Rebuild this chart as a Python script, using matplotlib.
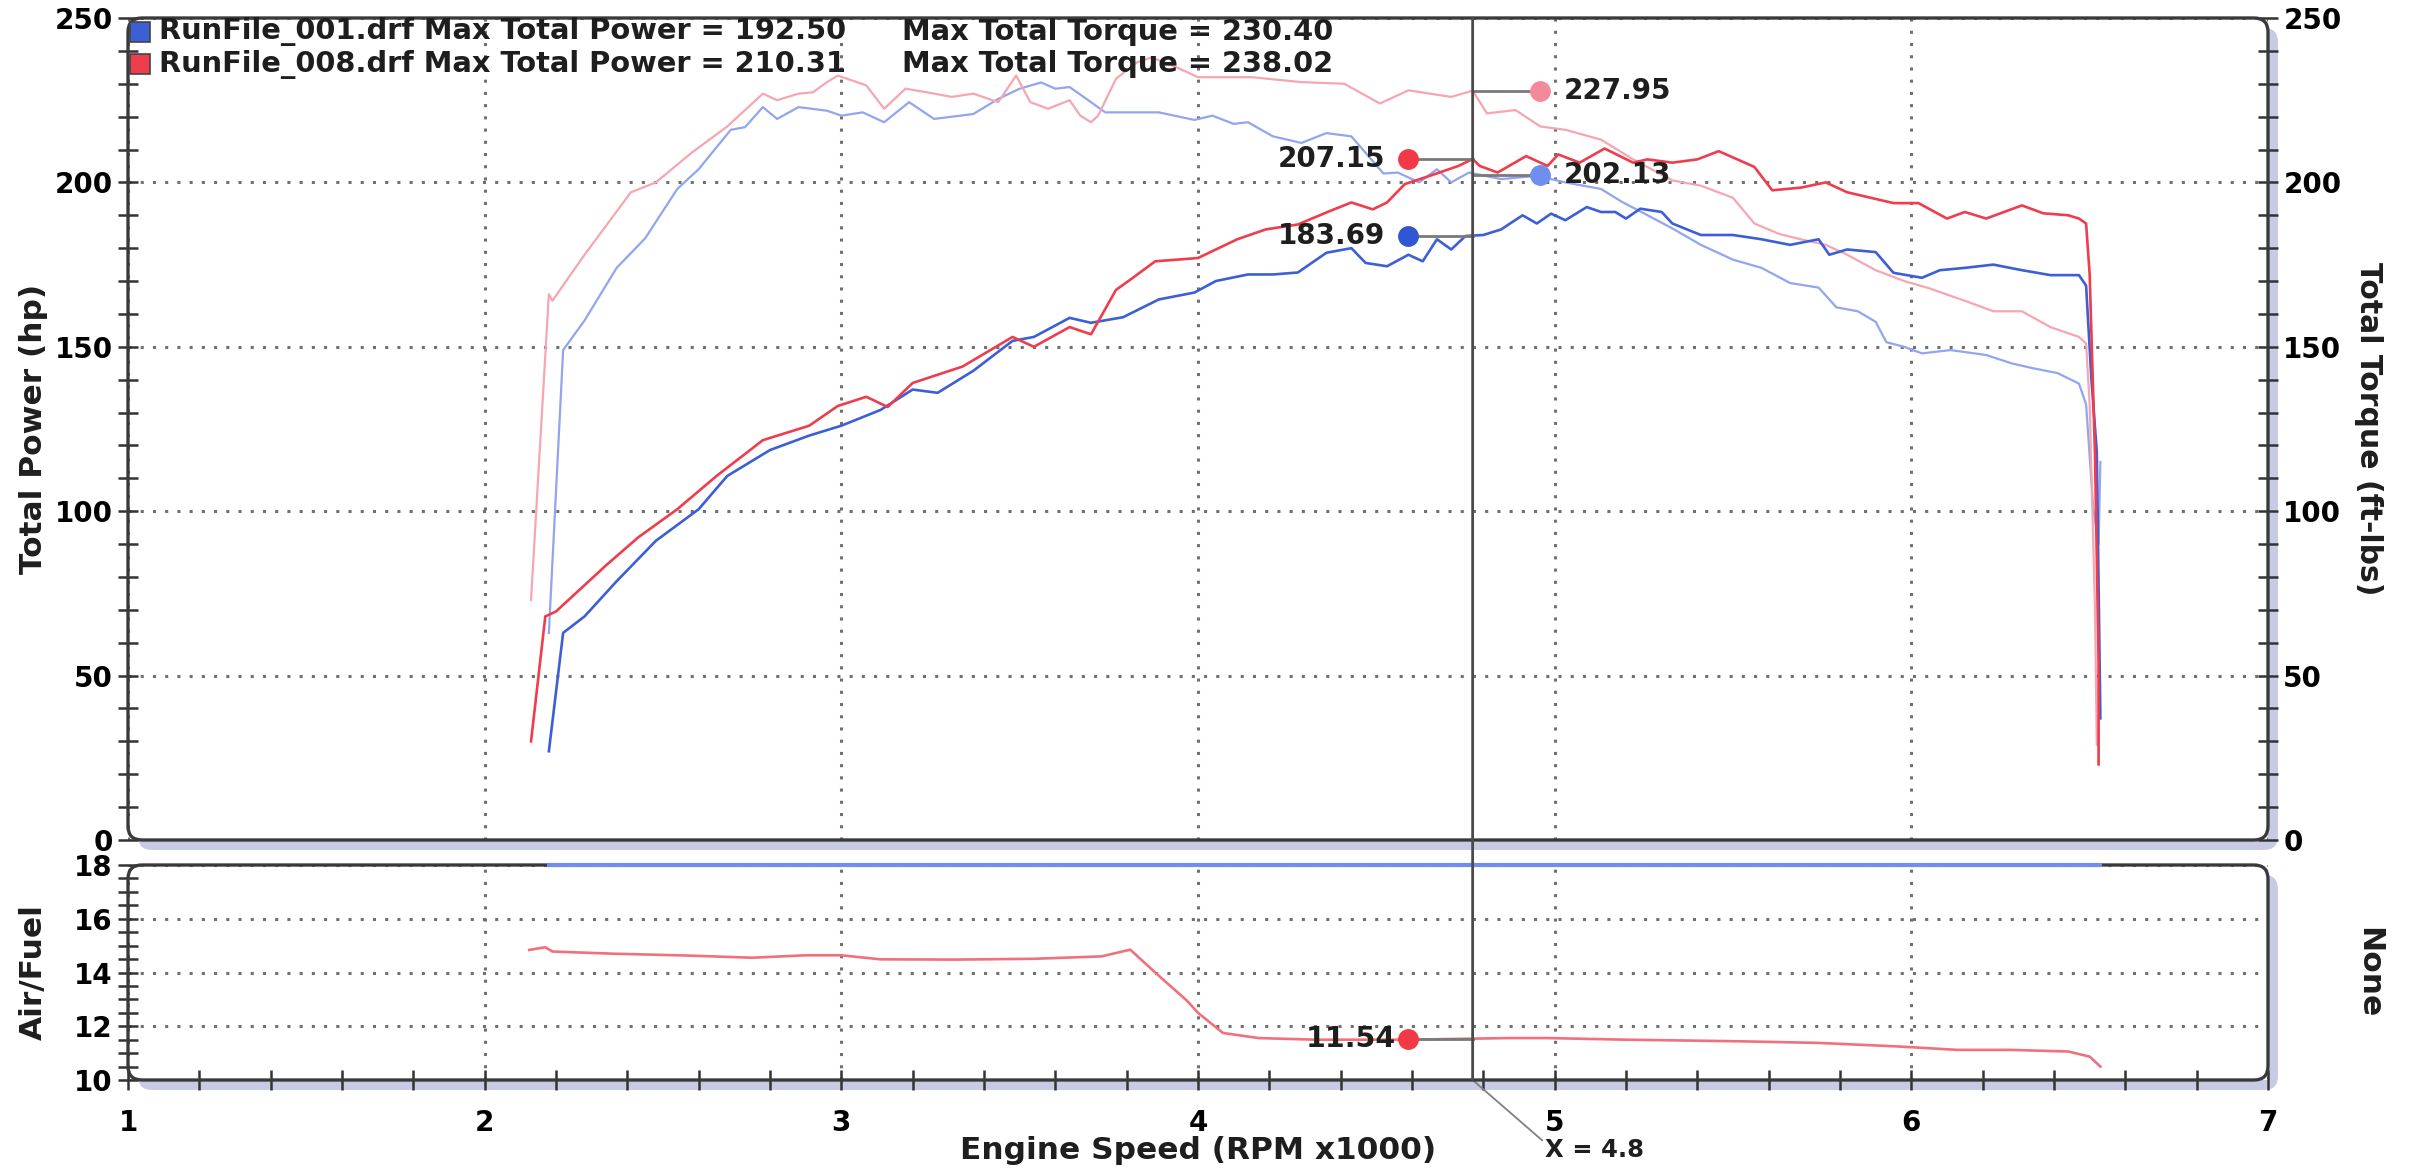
import numpy as np
import matplotlib.pyplot as plt
from matplotlib import transforms
from matplotlib.patches import FancyBboxPatch, ConnectionPatch
from matplotlib.ticker import MultipleLocator

# ---- values (RPM x1000) ----
rpm_hp001 = [2.18, 2.22, 2.28, 2.37, 2.48, 2.60, 2.68, 2.80, 2.91, 3.00, 3.11, 3.20, 3.27, 3.37,
             3.48, 3.54, 3.64, 3.70, 3.79, 3.89, 3.99, 4.05, 4.14, 4.21, 4.28, 4.36, 4.43, 4.47,
             4.53, 4.59, 4.63, 4.67, 4.71, 4.75, 4.80, 4.85, 4.91, 4.95, 4.99, 5.03, 5.09, 5.13,
             5.17, 5.20, 5.24, 5.30, 5.33, 5.41, 5.50, 5.58, 5.66, 5.74, 5.77, 5.82, 5.90, 5.95,
             6.03, 6.08, 6.15, 6.23, 6.31, 6.39, 6.47, 6.49, 6.505, 6.52, 6.53]
hp_001 = [27, 63, 68, 78.7, 91, 100.6, 110.7, 118.6, 123, 126, 130.8, 137, 136, 142.7,
          151.8, 153, 158.8, 157.3, 159, 164.4, 166.5, 170, 172, 172, 172.6, 178.6, 180, 175.5,
          174.5, 178, 176, 182.7, 179.6, 183.7, 184, 185.7, 190, 187.5, 190.5, 188.5, 192.5, 191,
          191, 189, 192, 191, 187.5, 184, 184, 182.7, 181, 182.7, 178, 179.6, 178.8, 172.5,
          171, 173.3, 174, 175, 173.3, 171.8, 171.8, 168.6, 140, 118, 37]

rpm_tq001 = [2.18, 2.22, 2.28, 2.37, 2.45, 2.54, 2.60, 2.69, 2.73, 2.78, 2.82, 2.88, 2.96, 3.00,
             3.06, 3.12, 3.19, 3.26, 3.37, 3.44, 3.50, 3.56, 3.60, 3.64, 3.70, 3.74, 3.89, 3.99,
             4.04, 4.10, 4.14, 4.21, 4.29, 4.36, 4.43, 4.52, 4.56, 4.62, 4.67, 4.71, 4.76, 4.85,
             4.95, 5.03, 5.13, 5.19, 5.25, 5.33, 5.41, 5.50, 5.58, 5.66, 5.74, 5.79, 5.85, 5.90,
             5.93, 5.98, 6.03, 6.11, 6.21, 6.28, 6.34, 6.41, 6.47, 6.49, 6.51, 6.525, 6.53]
tq_001 = [63, 149, 158, 174, 183, 198, 204, 216, 216.8, 222.9, 219.3, 222.9, 221.8, 220.3,
          221.3, 218.3, 224.4, 219.3, 220.8, 225.4, 228.5, 230.4, 228.5, 229, 224.4, 221.3, 221.3, 219,
          220.3, 217.8, 218.3, 214, 212, 215, 214, 202.7, 203, 200, 204, 200, 203, 201,
          202, 200, 198, 194, 190.6, 186, 181, 176.5, 174, 169.4, 168, 162, 160.8, 157.6,
          151.4, 150, 148, 149, 147.5, 145, 143.5, 142, 138.8, 132.5, 101, 90, 115]

rpm_hp008 = [2.13, 2.17, 2.20, 2.34, 2.43, 2.54, 2.65, 2.78, 2.91, 2.99, 3.07, 3.13, 3.20, 3.34,
             3.48, 3.54, 3.64, 3.70, 3.77, 3.81, 3.88, 4.00, 4.11, 4.19, 4.28, 4.37, 4.43, 4.49,
             4.53, 4.58, 4.65, 4.73, 4.77, 4.79, 4.84, 4.92, 4.98, 5.01, 5.07, 5.14, 5.22, 5.26,
             5.33, 5.40, 5.46, 5.56, 5.61, 5.69, 5.76, 5.82, 5.95, 6.02, 6.10, 6.15, 6.21, 6.31,
             6.37, 6.44, 6.47, 6.49, 6.50, 6.515, 6.525, 6.525]
hp_008 = [30, 68, 69.5, 83.5, 92, 100.6, 110.7, 121.6, 126, 132, 134.8, 131.7, 139, 144,
          153, 150, 156, 153.8, 167.3, 170.4, 176, 177, 182.7, 185.7, 187.2, 191.3, 193.9, 191.8,
          193.9, 199.5, 202, 205, 207.1, 205, 203, 208, 205, 208.5, 206, 210.3, 206, 207,
          206, 207, 209.5, 204.7, 197.6, 198.4, 200, 197, 193.7, 193.7, 189, 191, 189, 193,
          190.6, 190, 189, 187.5, 172, 117, 54, 23]

rpm_tq008 = [2.13, 2.18, 2.19, 2.28, 2.41, 2.48, 2.58, 2.68, 2.78, 2.82, 2.88, 2.92, 2.96, 2.99,
             3.07, 3.12, 3.18, 3.24, 3.31, 3.37, 3.44, 3.49, 3.53, 3.58, 3.64, 3.67, 3.70, 3.72,
             3.77, 3.83, 3.87, 3.94, 4.00, 4.15, 4.29, 4.41, 4.51, 4.59, 4.71, 4.77, 4.81, 4.89,
             4.96, 5.03, 5.13, 5.22, 5.33, 5.41, 5.50, 5.56, 5.63, 5.69, 5.76, 5.82, 5.90, 5.98,
             6.05, 6.11, 6.15, 6.23, 6.31, 6.39, 6.47, 6.49, 6.50, 6.515, 6.52]
tq_008 = [73, 166, 164, 178, 197, 200, 209, 217, 227, 225, 227, 227.4, 230.5, 232.5,
          229.5, 222.4, 228.5, 227.4, 226, 227, 224.4, 232.5, 224.4, 222.4, 225, 220.3, 218.3, 220.3,
          231.5, 236.6, 238, 235, 232, 232, 230.5, 230, 224, 228, 226, 227.9, 221, 222,
          217, 216, 213, 207, 200.6, 199, 195.3, 187.5, 184.3, 182.7, 181, 178, 173.3, 170,
          167.8, 165.5, 164, 160.8, 160.8, 156, 153, 151, 132.5, 70, 29]

rpm_af008 = [2.125, 2.17, 2.19, 2.36, 2.57, 2.75, 2.90, 3.00, 3.11, 3.32, 3.54, 3.73, 3.81, 3.88,
             3.97, 4.00, 4.07, 4.17, 4.33, 4.59, 4.87, 4.98, 5.20, 5.52, 5.74, 5.96, 6.13, 6.28,
             6.44, 6.50, 6.53]
af_008 = [14.84, 14.94, 14.78, 14.70, 14.63, 14.55, 14.64, 14.64, 14.49, 14.48, 14.51, 14.60, 14.85, 14.0,
          12.94, 12.5, 11.75, 11.56, 11.5, 11.5, 11.56, 11.56, 11.5, 11.44, 11.38, 11.25, 11.12, 11.12,
          11.06, 10.87, 10.5]
# run 001 air/fuel is pegged at the top of the scale
rpm_af001 = [2.18, 6.53]
af_001 = [18, 18]

cursor_rpm = 4.77
cursor_label = "X = 4.8"
read_tq008 = 227.95
read_hp008 = 207.15
read_tq001 = 202.13
read_hp001 = 183.69
read_af008 = 11.54

run_names = ["RunFile_001.drf", "RunFile_008.drf"]
max_power = [192.50, 210.31]
max_torque = [230.40, 238.02]

# colours
c_hp001, c_tq001 = '#3d5fd6', '#92a5ee'
c_hp008, c_tq008 = '#ee3d4c', '#f6a6b1'
c_af008 = '#f0707c'

plt.rcParams['font.family'] = 'DejaVu Sans'
plt.rcParams['font.weight'] = 'bold'
plt.rcParams['text.color'] = '#1e1e1e'

W_PX, H_PX = 2411, 1171
fig = plt.figure(figsize=(W_PX / 100, H_PX / 100), dpi=100)
fig.patch.set_facecolor('white')

ax1 = fig.add_axes([128 / W_PX, 1 - 840 / H_PX, 2140 / W_PX, 822 / H_PX])
ax2 = fig.add_axes([128 / W_PX, 1 - 1080 / H_PX, 2140 / W_PX, 215 / H_PX])


def panel_frame(ax):
    bb = ax.get_position()
    w, h = bb.width * W_PX, bb.height * H_PX
    style = "round,pad=0,rounding_size=%f" % (14 / w)
    shadow = FancyBboxPatch((0, 0), 1, 1, boxstyle=style, mutation_aspect=w / h,
                            transform=transforms.offset_copy(ax.transAxes, fig=fig, x=10, y=-10, units='dots'),
                            fc='#c8cbe4', ec='none', zorder=-1)
    fig.add_artist(shadow)
    border = FancyBboxPatch((0, 0), 1, 1, boxstyle=style, mutation_aspect=w / h,
                            transform=ax.transAxes, fill=False, ec='#3a3a3a', lw=2.4,
                            clip_on=False, zorder=4)
    ax.add_patch(border)
    for s in ax.spines.values():
        s.set_visible(False)


grid_kw = dict(ls=(0, (1, 3)), lw=2.2, color='#707070')
tick_kw = dict(direction='inout', length=14, width=1.8, color='#333333', labelsize=20)
LABEL_FS = 22.5
LEG_FS = 20.8

# ---- top panel: power / torque ----
ax1.set_xlim(1, 7)
ax1.set_ylim(0, 250)
ax1.xaxis.set_major_locator(MultipleLocator(1))
ax1.yaxis.set_major_locator(MultipleLocator(50))
ax1.yaxis.set_minor_locator(MultipleLocator(10))
ax1.tick_params(axis='x', which='both', length=0, labelbottom=False)
ax1.tick_params(axis='y', which='both', left=True, right=True, labelleft=True, labelright=True, pad=4, **tick_kw)
ax1.grid(True, which='major', **grid_kw)
panel_frame(ax1)

ax1.plot(rpm_tq001, tq_001, color=c_tq001, lw=1.6, zorder=3)
ax1.plot(rpm_tq008, tq_008, color=c_tq008, lw=1.6, zorder=3)
ax1.plot(rpm_hp001, hp_001, color=c_hp001, lw=1.9, zorder=3)
ax1.plot(rpm_hp008, hp_008, color=c_hp008, lw=1.9, zorder=3)

ax1.text(-0.044, 0.5, "Total Power (hp)", transform=ax1.transAxes, rotation=90,
         ha='center', va='center', fontsize=LABEL_FS)
ax1.text(1.047, 0.5, "Total Torque (ft-lbs)", transform=ax1.transAxes, rotation=270,
         ha='center', va='center', fontsize=LABEL_FS - 1)

# legend block
leg_colors = [c_hp001, c_hp008]
leg_y = [0.983, 0.944]
for name, p, t, col, y in zip(run_names, max_power, max_torque, leg_colors, leg_y):
    ax1.plot([0.0056], [y], marker='s', ms=15, mfc=col, mec='#444444', mew=1.2,
             transform=ax1.transAxes, clip_on=False, zorder=7)
    ax1.text(0.0145, y, f"{name} Max Total Power = {p:.2f}", transform=ax1.transAxes,
             ha='left', va='center', fontsize=LEG_FS, zorder=7)
    ax1.text(0.3617, y, f"Max Total Torque = {t:.2f}", transform=ax1.transAxes,
             ha='left', va='center', fontsize=LEG_FS, zorder=7)

# cursor read-outs
left_x = cursor_rpm - 0.18
right_x = cursor_rpm + 0.19
lead = dict(color='#7a7a7a', lw=2, zorder=5)
readouts = [(read_tq008, '#f5899c', right_x), (read_hp008, '#f23a46', left_x),
            (read_tq001, '#6f8ff0', right_x), (read_hp001, '#2f57d4', left_x)]
for val, col, mx in readouts:
    ax1.plot([min(mx, cursor_rpm), max(mx, cursor_rpm)], [val, val], **lead)
    ax1.plot(mx, val, 'o', ms=14, color=col, zorder=6)
    if mx < cursor_rpm:
        ax1.text(mx - 0.065, val, f"{val:.2f}", ha='right', va='center', fontsize=20, zorder=6)
    else:
        ax1.text(mx + 0.065, val, f"{val:.2f}", ha='left', va='center', fontsize=20, zorder=6)

# ---- bottom panel: air / fuel ----
ax2.set_xlim(1, 7)
ax2.set_ylim(10, 18)
ax2.xaxis.set_major_locator(MultipleLocator(1))
ax2.xaxis.set_minor_locator(MultipleLocator(0.2))
ax2.yaxis.set_major_locator(MultipleLocator(2))
ax2.yaxis.set_minor_locator(MultipleLocator(0.5))
ax2.tick_params(axis='x', which='both', bottom=True, top=False, pad=14, **tick_kw)
ax2.tick_params(axis='y', which='both', left=True, right=False, pad=4, **tick_kw)
ax2.grid(True, which='major', **grid_kw)
panel_frame(ax2)

ax2.plot(rpm_af008, af_008, color=c_af008, lw=1.9, zorder=3)
ax2.plot(rpm_af001, af_001, color='#6f8ff0', lw=3, zorder=5, clip_on=False)

ax2.plot([left_x, cursor_rpm], [read_af008, read_af008], **lead)
ax2.plot(left_x, read_af008, 'o', ms=14, color='#f23a46', zorder=6)
ax2.text(left_x - 0.035, read_af008, f"{read_af008:.2f}", ha='right', va='center',
         fontsize=20.5, zorder=6)

ax2.text(-0.044, 0.5, "Air/Fuel", transform=ax2.transAxes, rotation=90,
         ha='center', va='center', fontsize=LABEL_FS)
ax2.text(1.047, 0.5, "None", transform=ax2.transAxes, rotation=270,
         ha='center', va='center', fontsize=LABEL_FS)
ax2.text(0.5, -0.33, "Engine Speed (RPM x1000)", transform=ax2.transAxes,
         ha='center', va='center', fontsize=LABEL_FS)

# cursor line through both panels
fig.add_artist(ConnectionPatch(xyA=(cursor_rpm, 250), coordsA=ax1.transData,
                               xyB=(cursor_rpm, 10), coordsB=ax2.transData,
                               color='#4a4a4a', lw=2, zorder=6))
ax2.annotate(cursor_label, xy=(cursor_rpm, 10), xycoords='data',
             xytext=(1545 / W_PX, 1 - 1150 / H_PX), textcoords='figure fraction',
             ha='left', va='center', fontsize=17.5,
             arrowprops=dict(arrowstyle='-', color='#808080', lw=1.3,
                             shrinkA=0, shrinkB=0, relpos=(0.0, 0.8)))

fig.savefig('out.png', dpi=100, facecolor='white')
